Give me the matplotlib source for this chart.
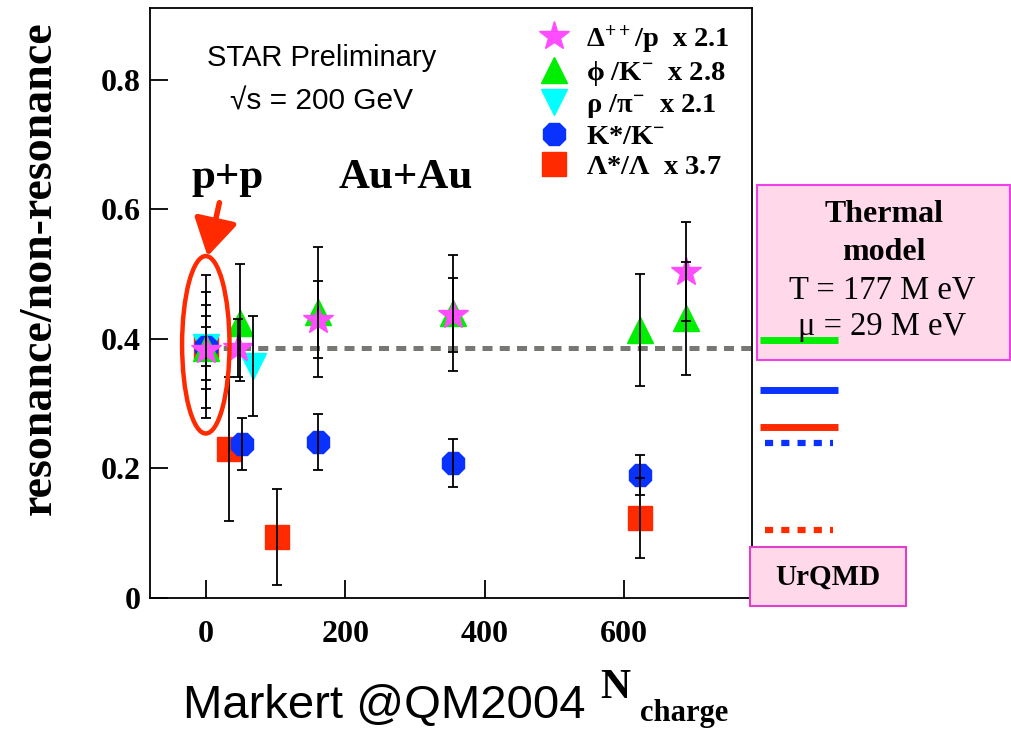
import matplotlib
matplotlib.use("Agg")
import matplotlib.pyplot as plt
from matplotlib.patches import Ellipse, Rectangle, FancyArrowPatch

# resonance / non-resonance ratios vs. number of charged particles
delta_n = [0, 46, 161, 354, 688]
delta_r = [0.383, 0.386, 0.430, 0.437, 0.504]
delta_e = [0.090, 0.045, 0.060, 0.057, 0.077]

phi_n = [0, 49, 161, 354, 622, 688]
phi_r = [0.386, 0.425, 0.442, 0.440, 0.414, 0.432]
phi_e = [0.050, 0.090, 0.100, 0.090, 0.087, 0.087]

rho_n = [0, 67]
rho_r = [0.388, 0.358]
rho_e = [0.030, 0.077]

kstar_n = [0, 52, 161, 354, 622]
kstar_r = [0.388, 0.238, 0.241, 0.208, 0.190]
kstar_e = [0.065, 0.040, 0.043, 0.037, 0.031]

lam_n = [0, 33, 102, 622]
lam_r = [0.388, 0.230, 0.094, 0.124]
lam_e = [0.110, 0.111, 0.074, 0.062]

pp_level = 0.386

# model predictions shown at the right edge
thermal_vals = [0.398, 0.321, 0.264]
thermal_cols = ["#00ee00", "#0a32ff", "#ff2a00"]
urqmd_vals = [0.239, 0.105]
urqmd_cols = ["#0a32ff", "#ff2a00"]

x_ticks = [0, 200, 400, 600]
y_ticks = [0, 0.2, 0.4, 0.6, 0.8]
y_tick_labels = ["0", "0.2", "0.4", "0.6", "0.8"]

W, H = 1011, 731
SERIF = "Liberation Serif"
SANS = "Liberation Sans"
plt.rcParams["mathtext.fontset"] = "custom"
plt.rcParams["mathtext.rm"] = "Liberation Serif:bold"
plt.rcParams["mathtext.it"] = "Liberation Serif:bold"
plt.rcParams["mathtext.bf"] = "Liberation Serif:bold"


def fx(x):
    return x / W


def fy(y):
    return 1 - y / H


fig = plt.figure(figsize=(W / 100, H / 100), dpi=100)
ax = fig.add_axes([fx(150), fy(598), (752 - 150) / W, (598 - 8) / H])
ax.set_xlim(-80, 783)
ax.set_ylim(0, 0.911)

for s in ax.spines.values():
    s.set_linewidth(1.3)

ax.set_xticks(x_ticks)
ax.set_xticklabels([str(v) for v in x_ticks])
ax.set_yticks(y_ticks)
ax.set_yticklabels(y_tick_labels)
ax.tick_params(axis="x", direction="in", length=13, width=1.3, pad=16)
ax.tick_params(axis="y", direction="in", length=13, width=1.3, pad=7)
for lab in ax.get_xticklabels() + ax.get_yticklabels():
    lab.set_fontfamily(SERIF)
    lab.set_fontweight("bold")
    lab.set_fontsize(23)

# p+p reference level
ax.plot([0, 783], [pp_level, pp_level], color="#777773", lw=3.6,
        dashes=(2.0, 1.45), zorder=1)

series = [
    (lam_n, lam_r, lam_e, "s", "#ff2a00", 17, r"$\Lambda$*/$\Lambda$  x 3.7"),
    (rho_n, rho_r, rho_e, "v", "#00ffff", 19, r"$\rho$ /$\pi^{-}$  x 2.1"),
    (kstar_n, kstar_r, kstar_e, "8", "#0a32ff", 17, r"K*/K$^{-}$"),
    (phi_n, phi_r, phi_e, "^", "#00ee00", 19, r"$\phi$ /K$^{-}$  x 2.8"),
    (delta_n, delta_r, delta_e, "*", "#ff4cff", 22, r"$\Delta^{++}$/p  x 2.1"),
]
handles = {}
for n, r, e, m, c, ms, lab in series:
    h, = ax.plot(n, r, ls="none", marker=m, color=c, ms=ms, mec=c, zorder=3,
                 label=lab)
    ax.errorbar(n, r, yerr=e, fmt="none", ecolor="black", elinewidth=1.3,
                capsize=3.6, capthick=1.3, zorder=4)
    handles[lab] = h

order = [series[4][6], series[3][6], series[1][6], series[2][6], series[0][6]]
leg = ax.legend([handles[k] for k in order], order, loc="upper left",
                bbox_to_anchor=(fx(523), fy(9)), bbox_transform=fig.transFigure,
                frameon=False, handlelength=1.2, handletextpad=0.5,
                labelspacing=0.14, borderpad=0, numpoints=1,
                prop={"family": SERIF, "weight": "bold", "size": 20.5})

# model boxes and lines to the right of the frame
ax.add_patch(Rectangle((fx(757), fy(360)), (1010 - 757) / W, (360 - 185) / H,
                       transform=fig.transFigure, facecolor="#ffd8ea",
                       edgecolor="#f040e8", lw=1.5, clip_on=False, zorder=0.5))
ax.add_patch(Rectangle((fx(750), fy(606)), (906 - 750) / W, (606 - 547) / H,
                       transform=fig.transFigure, facecolor="#ffd8ea",
                       edgecolor="#e040c8", lw=1.5, clip_on=False, zorder=2.6))
fig.text(fx(884), fy(215), "Thermal", family=SERIF, weight="bold", size=23,
         ha="center", va="center")
fig.text(fx(884), fy(253), "model", family=SERIF, weight="bold", size=23,
         ha="center", va="center")
fig.text(fx(882), fy(290), "T = 177 M eV", family=SERIF, size=23.5,
         ha="center", va="center")
fig.text(fx(882), fy(327), "\u03bc = 29 M eV", family=SERIF, size=23.5,
         ha="center", va="center")
fig.text(fx(828), fy(577), "UrQMD", family=SERIF, weight="bold", size=21,
         ha="center", va="center", zorder=5)

for v, c in zip(thermal_vals, thermal_cols):
    ax.plot([794, 907], [v, v], color=c, lw=5, solid_capstyle="butt",
            clip_on=False, zorder=5)
for v, c in zip(urqmd_vals, urqmd_cols):
    ax.plot([801, 899], [v, v], color=c, lw=4.5, dashes=(1.3, 1.3),
            clip_on=False, zorder=5)

# text inside the frame
fig.text(fx(322), fy(58), "STAR Preliminary", family=SANS, size=21,
         ha="center", va="center")
fig.text(fx(322), fy(102), "\u221as = 200 GeV", family=SANS, size=21.5,
         ha="center", va="center")
fig.text(fx(228), fy(178), "p+p", family=SERIF, weight="bold", size=31,
         ha="center", va="center")
fig.text(fx(406), fy(178), "Au+Au", family=SERIF, weight="bold", size=31,
         ha="center", va="center")

# highlight around the p+p points
ax.add_patch(Ellipse((0, 0.391), 68, 0.274, fill=False, edgecolor="#ff2a00",
                     lw=3.2, zorder=6))
fig.patches.append(FancyArrowPatch((fx(220), fy(200)), (fx(207), fy(259)),
                                   transform=fig.transFigure,
                                   arrowstyle="-|>,head_length=1.6,head_width=0.95",
                                   mutation_scale=14, color="#ff2a00", lw=4))

# axis titles
fig.text(fx(40), fy(268), "resonance/non-resonance", family=SERIF,
         weight="bold", size=33, rotation=90, ha="center", va="center")
fig.text(fx(183), fy(706), "Markert @QM2004", family=SANS, size=34,
         ha="left", va="center")
fig.text(fx(600), fy(688), "N", family=SERIF, weight="bold", size=30,
         ha="left", va="center")
fig.text(fx(640), fy(713), "charge", family=SERIF, weight="bold", size=22,
         ha="left", va="center")

fig.savefig("out.png", dpi=100)
